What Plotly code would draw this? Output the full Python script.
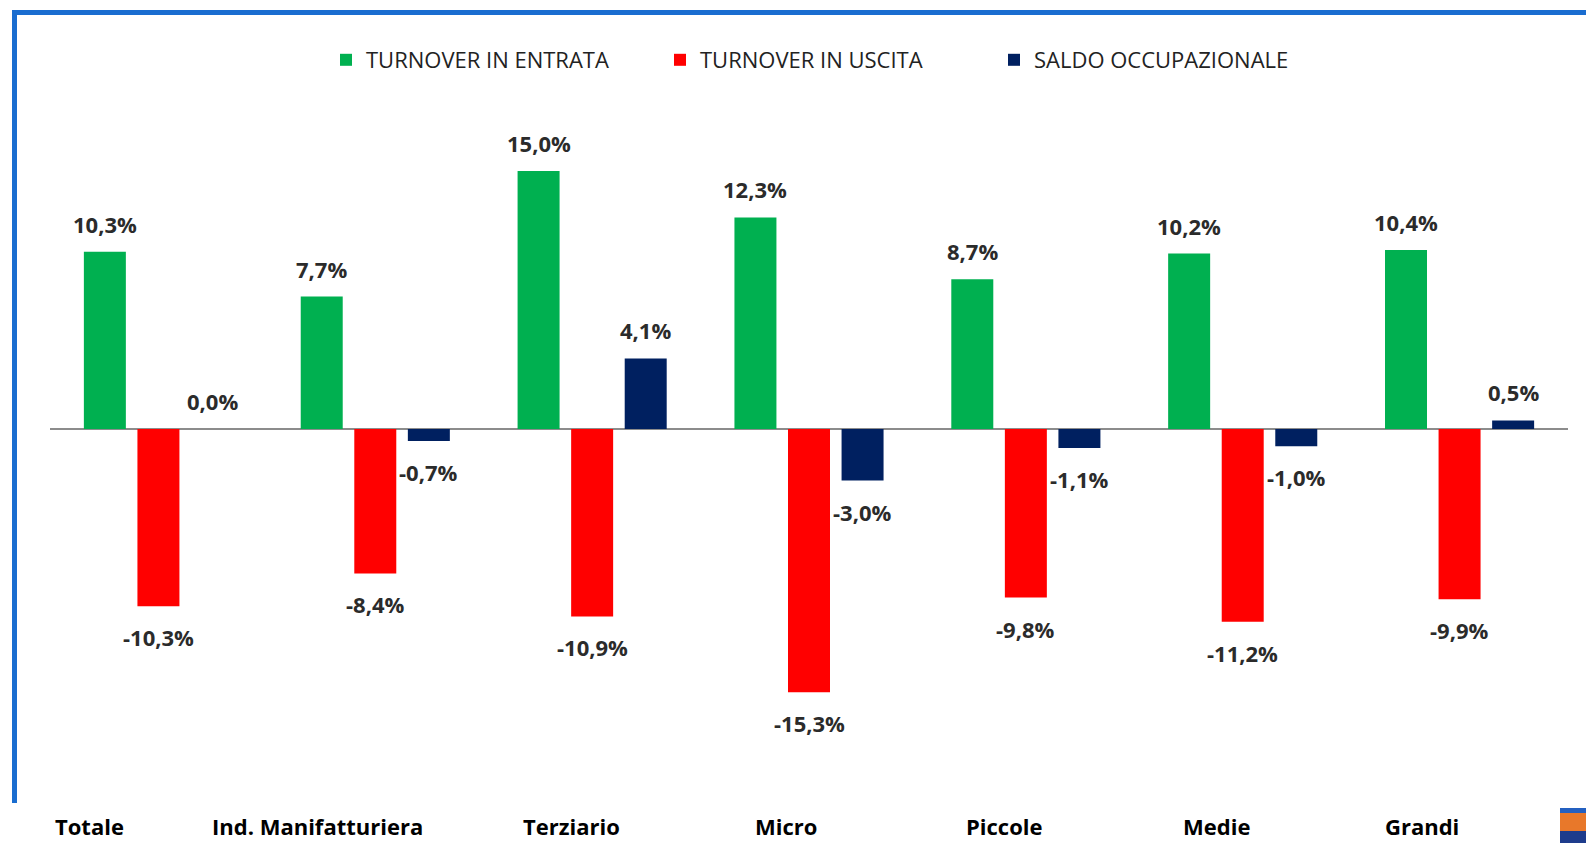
import plotly.graph_objects as go

# ====== Dati ======
categorie = ["Totale", "Ind. Manifatturiera", "Terziario", "Micro", "Piccole", "Medie", "Grandi"]
entrata = [10.3, 7.7, 15.0, 12.3, 8.7, 10.2, 10.4]
uscita = [-10.3, -8.4, -10.9, -15.3, -9.8, -11.2, -9.9]
saldo = [0.0, -0.7, 4.1, -3.0, -1.1, -1.0, 0.5]

serie = [
    ("TURNOVER IN ENTRATA", entrata, "#00B050", -53.6),
    ("TURNOVER IN USCITA", uscita, "#FF0000", 0),
    ("SALDO OCCUPAZIONALE", saldo, "#002060", 53.6),
]

# spostamento orizzontale delle etichette di categoria (px)
shift_cat = [-69, -58, -21, -23, -22, -26, -38]

# ====== Geometria (px) ======
W, H = 1586, 843
L, R = 50, 1568
T, B = 100, 780


def px_x(x):
    return (x - L) / (R - L)


def px_y(y):
    return (B - y) / (B - T)


fig = go.Figure()
annots = []
for nome, valori, colore, dx in serie:
    fig.add_trace(go.Bar(
        name=nome, x=categorie, y=valori,
        marker=dict(color=colore, line=dict(width=0)),
    ))
    for c, v in zip(categorie, valori):
        testo = f"{v:.1f}%".replace(".", ",")
        annots.append(dict(
            x=c, y=v, xref="x", yref="y", text=testo, showarrow=False,
            xshift=dx, yshift=28 if v >= 0 else -31, yanchor="middle",
            font=dict(family="Open Sans", size=22, color="#2b2b2b", weight="bold"),
        ))

for c, s in zip(categorie, shift_cat):
    annots.append(dict(
        x=c, y=px_y(826), xref="x", yref="paper", text=c, showarrow=False,
        xshift=s, yanchor="middle",
        font=dict(family="Open Sans", size=22, color="#000000", weight="bold"),
    ))

# ====== Cornice e logo ======
blu = "#1A6DD0"
shapes = [
    dict(type="line", xref="paper", yref="paper", x0=px_x(14.5), x1=px_x(14.5),
         y0=px_y(803), y1=px_y(10), line=dict(color=blu, width=5)),
    dict(type="line", xref="paper", yref="paper", x0=px_x(12), x1=px_x(1590),
         y0=px_y(12.5), y1=px_y(12.5), line=dict(color=blu, width=5)),
    dict(type="rect", xref="paper", yref="paper", x0=px_x(1560), x1=px_x(1590),
         y0=px_y(813), y1=px_y(808), fillcolor="#2460C0", line=dict(width=0)),
    dict(type="rect", xref="paper", yref="paper", x0=px_x(1560), x1=px_x(1590),
         y0=px_y(831), y1=px_y(813), fillcolor="#E8782A", line=dict(width=0)),
    dict(type="rect", xref="paper", yref="paper", x0=px_x(1560), x1=px_x(1590),
         y0=px_y(845), y1=px_y(831), fillcolor="#1E3C8C", line=dict(width=0)),
]

sc = 17.2
fig.update_layout(
    width=W, height=H,
    margin=dict(l=L, r=W - R, t=T, b=H - B),
    paper_bgcolor="white", plot_bgcolor="white",
    barmode="group", bargap=0.259, bargroupgap=0.216,
    legend=dict(
        orientation="h", x=px_x(827), xanchor="center", y=px_y(60), yanchor="middle",
        font=dict(family="Open Sans", size=22, color="#222222"),
        entrywidth=289, itemwidth=30,
    ),
    xaxis=dict(showticklabels=False, showgrid=False, showline=False, ticks=""),
    yaxis=dict(
        range=[-(B - 429) / sc, (429 - T) / sc],
        showticklabels=False, showgrid=False, showline=False, ticks="",
        zeroline=True, zerolinecolor="#8C8C8C", zerolinewidth=1.5,
    ),
    annotations=annots,
    shapes=shapes,
)

fig.write_html("out.html", config={"displayModeBar": False},
               post_script="document.body.style.margin='0';")
